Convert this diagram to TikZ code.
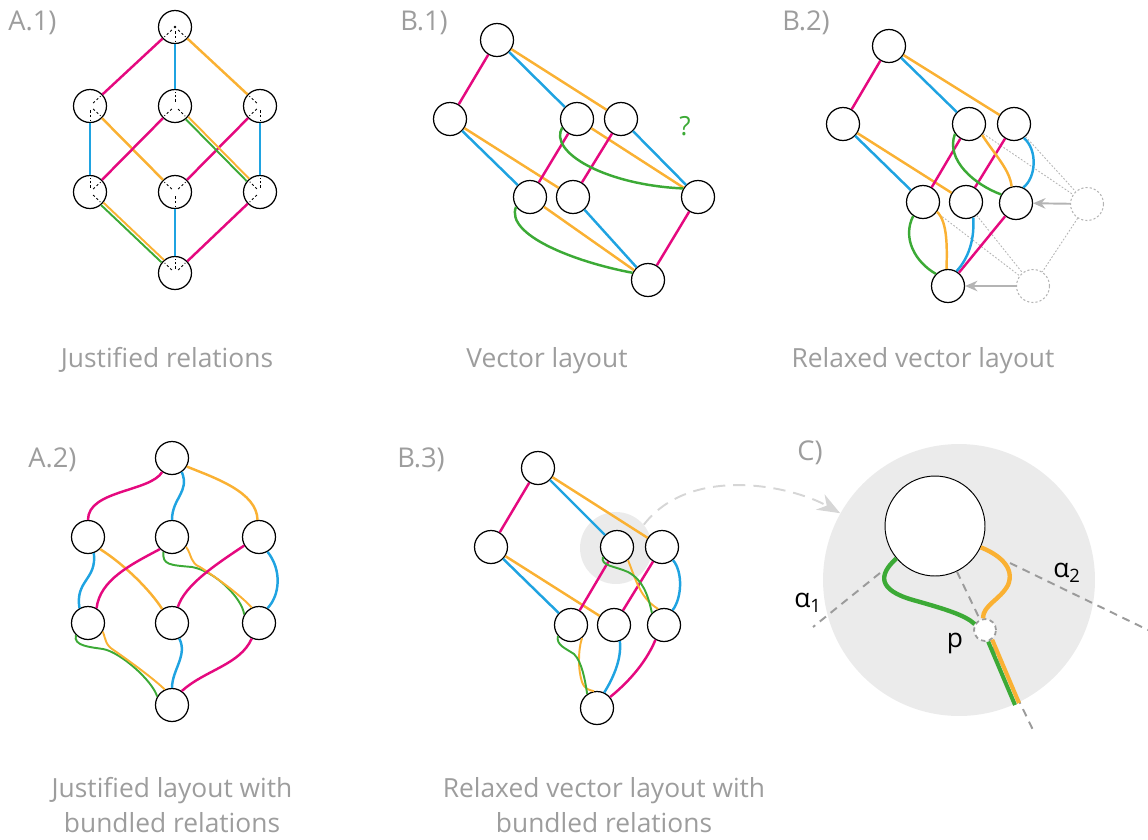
\documentclass[tikz,border=0pt]{standalone}
\usepackage{fontspec}
\setmainfont{Open Sans}
\usetikzlibrary{arrows.meta}
\definecolor{mag}{HTML}{E5097F}
\definecolor{cyn}{HTML}{1FA3E1}
\definecolor{orn}{HTML}{FAB133}
\definecolor{grn}{HTML}{3CAA36}
\definecolor{txg}{HTML}{9D9D9D}
\definecolor{lgr}{HTML}{EBEBEB}
\definecolor{dgr}{HTML}{9B9B9B}
\definecolor{agr}{HTML}{B4B4B4}
\definecolor{arcg}{HTML}{D6D6D6}
\tikzset{
  vx/.style={circle,draw=black,line width=0.7pt,fill=white,minimum size=0.66cm,inner sep=0pt},
  ghost/.style={circle,draw=agr,line width=0.6pt,dash pattern=on 1.2pt off 1.2pt,minimum size=0.66cm,inner sep=0pt},
  rel/.style={line width=1.4pt},
  mg/.style={rel,draw=mag},
  bl/.style={rel,draw=cyn},
  og/.style={rel,draw=orn},
  gn/.style={rel,draw=grn},
  pr/.style={line width=1.1pt},
  tag/.style={anchor=west,inner sep=0pt,text=txg,font=\fontsize{15.5}{18}\selectfont},
  capt/.style={anchor=base,text=txg,font=\fontsize{15}{18}\selectfont},
  tick/.style={draw=black,line width=0.5pt,dash pattern=on 1.3pt off 1.3pt,shorten <=2.5pt,shorten >=1.5pt},
  ghl/.style={draw=agr,line width=0.5pt,dash pattern=on 1pt off 1pt},
  push/.style={draw=agr,line width=1.1pt,-{Stealth[length=7pt,width=6pt]}},
  ray/.style={draw=dgr,line width=1.1pt,dash pattern=on 4.5pt off 3.4pt},
  fat/.style={line width=2.5pt},
}

\begin{document}
\begin{tikzpicture}[x=0.02cm,y=-0.02cm]
\useasboundingbox (0,0) rectangle (1148,839);

% A.1)
\node[tag] (ta1) at (8,23) {A.1)};
\node[vx] (a1t) at (175,27) {};
\node[vx] (a1l) at (90,106) {};
\node[vx] (a1m) at (175,106) {};
\node[vx] (a1r) at (260,106) {};
\node[vx] (a1p) at (90,192) {};
\node[vx] (a1q) at (175,192) {};
\node[vx] (a1s) at (260,192) {};
\node[vx] (a1b) at (175,273) {};
\draw[mg] (a1t) -- (a1l); \draw[bl] (a1t) -- (a1m); \draw[og] (a1t) -- (a1r);
\draw[bl] (a1l) -- (a1p); \draw[og] (a1l) -- (a1q);
\draw[mg] (a1m) -- (a1p);
\draw[mg] (a1r) -- (a1q); \draw[bl] (a1r) -- (a1s);
\draw[bl] (a1q) -- (a1b); \draw[mg] (a1s) -- (a1b);
\draw[og,pr] ([shift={(1.2,-1.2)}]a1m.-45) -- ([shift={(1.2,-1.2)}]a1s.135);
\draw[gn,pr] ([shift={(-1.2,1.2)}]a1m.-45) -- ([shift={(-1.2,1.2)}]a1s.135);
\draw[og,pr] ([shift={(1.2,-1.2)}]a1p.-44) -- ([shift={(1.2,-1.2)}]a1b.136);
\draw[gn,pr] ([shift={(-1.2,1.2)}]a1p.-44) -- ([shift={(-1.2,1.2)}]a1b.136);
\foreach \n/\a in {a1t/-137,a1t/-90,a1t/-43,a1l/43,a1l/-90,a1l/-43,a1m/90,a1m/-137,a1m/-45,
  a1r/137,a1r/-137,a1r/-90,a1p/90,a1p/43,a1p/-44,a1q/137,a1q/43,a1q/-90,
  a1s/135,a1s/90,a1s/-136,a1b/136,a1b/90,a1b/44}
  \draw[tick] (\n.center) -- (\n.\a);
\fill (a1t.center) circle[radius=1.3];
\node[capt] (ca1) at (167,367) {Justified relations};

% B.1)
\node[tag] (tb1) at (400,23) {B.1)};
\node[vx] (b1t) at (497,40) {};
\node[vx] (b1l) at (450,119) {};
\node[vx] (b1m) at (577,119) {};
\node[vx] (b1n) at (621,119) {};
\node[vx] (b1p) at (530,197) {};
\node[vx] (b1q) at (573,197) {};
\node[vx] (b1s) at (698,197) {};
\node[vx] (b1b) at (648,280) {};
\draw[mg] (b1t) -- (b1l); \draw[bl] (b1t) -- (b1m); \draw[og] (b1t) -- (b1n);
\draw[bl] (b1l) -- (b1p); \draw[og] (b1l) -- (b1q);
\draw[mg] (b1m) -- (b1p); \draw[og] (b1m) -- (b1s);
\draw[mg] (b1n) -- (b1q); \draw[bl] (b1n) -- (b1s);
\draw[og] (b1p) -- (b1b); \draw[bl] (b1q) -- (b1b); \draw[mg] (b1s) -- (b1b);
\draw[gn] (b1m.-150) .. controls (548,152) and (605,185) .. (b1s.150);
\draw[gn] (b1p.-145) .. controls (505,235) and (575,262) .. (b1b.155);
\node[text=grn,font=\fontsize{15}{18}\selectfont] (qm) at (685,126) {?};
\node[capt] (cb1) at (547,367) {Vector layout};

% B.2)
\node[tag] (tb2) at (782,23) {B.2)};
\node[vx] (b2t) at (889,46) {};
\node[vx] (b2l) at (843,124) {};
\node[vx] (b2m) at (969,124) {};
\node[vx] (b2n) at (1014,124) {};
\node[vx] (b2p) at (923,202) {};
\node[vx] (b2q) at (966,202) {};
\node[vx] (b2s) at (1016,203) {};
\node[vx] (b2b) at (948,286) {};
\node[ghost] (g1) at (1087,204) {};
\node[ghost] (g2) at (1033,286) {};
\draw[ghl] (b2m) -- (g1); \draw[ghl] (b2n) -- (g1); \draw[ghl] (g1) -- (g2);
\draw[ghl] (b2p) -- (g2); \draw[ghl] (b2q) -- (g2);
\draw[push] (g1) -- (b2s); \draw[push] (g2) -- (b2b);
\draw[mg] (b2t) -- (b2l); \draw[bl] (b2t) -- (b2m); \draw[og] (b2t) -- (b2n);
\draw[bl] (b2l) -- (b2p); \draw[og] (b2l) -- (b2q);
\draw[mg] (b2m) -- (b2p); \draw[mg] (b2n) -- (b2q); \draw[mg] (b2s) -- (b2b);
\draw[og] (b2m.-40) .. controls (995,155) and (1010,170) .. (b2s.105);
\draw[gn] (b2m.-145) .. controls (945,160) and (975,185) .. (b2s.150);
\draw[bl] (b2n.-55) .. controls (1038,150) and (1036,178) .. (b2s.65);
\draw[gn] (b2p.-125) .. controls (902,238) and (915,262) .. (b2b.135);
\draw[og] (b2p.-35) .. controls (948,222) and (947,250) .. (b2b.95);
\draw[bl] (b2q.-65) .. controls (975,245) and (965,262) .. (b2b.60);
\node[capt] (cb2) at (923,367) {Relaxed vector layout};

% A.2)
\node[tag] (ta2) at (28,460) {A.2)};
\node[vx] (a2t) at (172,458) {};
\node[vx] (a2l) at (88,537) {};
\node[vx] (a2m) at (172,537) {};
\node[vx] (a2r) at (259,537) {};
\node[vx] (a2p) at (88,623) {};
\node[vx] (a2q) at (172,623) {};
\node[vx] (a2s) at (259,623) {};
\node[vx] (a2b) at (172,705) {};
\draw[mg] (a2t.-125) .. controls (150,492) and (88,490) .. (a2l.north);
\draw[bl] (a2t.-55) .. controls (190,492) and (172,498) .. (a2m.north);
\draw[og] (a2t.-30) .. controls (215,478) and (257,492) .. (a2r.95);
\draw[bl] (a2l.-70) .. controls (97,580) and (75,580) .. (a2p.120);
\draw[og] (a2l.-45) .. controls (125,565) and (150,590) .. (a2q.125);
\draw[mg] (a2m.-135) .. controls (130,565) and (100,580) .. (a2p.60);
\draw[gn,pr] (a2m.-120) .. controls (162,565) and (170,565) .. (192,567) .. controls (215,571) and (242,598) .. (a2s.150);
\draw[og,pr] (a2m.-35) .. controls (192,555) and (190,563) .. (200,567) .. controls (220,580) and (240,595) .. (a2s.115);
\draw[mg] (a2r.-150) .. controls (215,565) and (185,585) .. (a2q.70);
\draw[bl] (a2r.-60) .. controls (282,570) and (280,595) .. (a2s.60);
\draw[gn,pr] (a2p.-135) .. controls (73,646) and (90,647) .. (103,649) .. controls (120,652) and (152,680) .. (a2b.150);
\draw[og,pr] (a2p.-30) .. controls (106,640) and (105,645) .. (115,651) .. controls (135,665) and (155,680) .. (a2b.115);
\draw[bl] (a2q.-65) .. controls (188,655) and (172,670) .. (a2b.90);
\draw[mg] (a2s.-115) .. controls (240,665) and (205,670) .. (a2b.55);
\node[capt] (ca2) at (172,797) {Justified layout with};
\node[capt] (ca2b) at (172,832) {bundled relations};

% B.3)
\node[tag] (tb3) at (397,460) {B.3)};
\node[circle,fill=lgr,minimum size=1.44cm,inner sep=0pt] (b3h) at (616,548) {};
\node[vx] (b3t) at (538,468) {};
\node[vx] (b3l) at (491,547) {};
\node[vx] (b3m) at (617,547) {};
\node[vx] (b3n) at (662,547) {};
\node[vx] (b3p) at (571,625) {};
\node[vx] (b3q) at (614,625) {};
\node[vx] (b3s) at (664,625) {};
\node[vx] (b3b) at (597,708) {};
\draw[mg] (b3t) -- (b3l); \draw[bl] (b3t) -- (b3m); \draw[og] (b3t) -- (b3n);
\draw[bl] (b3l) -- (b3p); \draw[og] (b3l) -- (b3q);
\draw[mg] (b3m) -- (b3p); \draw[mg] (b3n) -- (b3q);
\draw[og,pr] (b3m.-50) .. controls (636,580) and (640,598) .. (b3s.110);
\draw[gn,pr] (b3m.-145) .. controls (600,566) and (615,566) .. (628,572) .. controls (643,580) and (648,595) .. (b3s.135);
\draw[bl] (b3n.-50) .. controls (683,572) and (682,598) .. (b3s.60);
\draw[og,pr] (b3p.-50) .. controls (578,650) and (578,670) .. (582,682) .. controls (585,690) and (590,690) .. (b3b.100);
\draw[gn,pr] (b3p.-140) .. controls (556,645) and (565,648) .. (574,654) .. controls (582,662) and (585,680) .. (b3b.125);
\draw[bl] (b3q.-70) .. controls (622,660) and (612,680) .. (b3b.65);
\draw[mg] (b3s.-120) .. controls (645,665) and (625,685) .. (b3b.40);
\node[capt] (cb3) at (604,797) {Relaxed vector layout with};
\node[capt] (cb3b) at (604,832) {bundled relations};

% C)
\node[tag] (tc) at (797,453) {C)};
\node[circle,fill=lgr,minimum size=5.44cm,inner sep=0pt] (cbig) at (959,580) {};
\draw[draw=arcg,line width=1.1pt,dash pattern=on 7pt off 4.5pt,-{Stealth[length=13pt,width=10pt]}]
  (b3h.40) .. controls (690,465) and (790,485) .. (cbig);
\node[vx,minimum size=2cm,line width=0.55pt] (cnode) at (935,526) {};
\coordinate (ra1) at (813,627); \coordinate (rb1) at (880,573);
\coordinate (ra2) at (1010,563); \coordinate (rb2) at (1148,630);
\coordinate (rp) at (1033,730);
\draw[ray] (rb1) -- (ra1);
\draw[ray] (ra2) -- (rb2);
\draw[ray] (cnode) -- (rp);
\node[circle,draw=dgr,line width=1pt,dash pattern=on 2.5pt off 2pt,fill=white,minimum size=0.44cm,inner sep=0pt] (cp) at (985,630) {};
\coordinate (cq) at (1017,704);
\draw[gn,fat] (cnode.-140) .. controls (878,575) and (878,590) .. (913,600) .. controls (945,609) and (965,615) .. (cp.150);
\draw[og,fat] (cnode.-25) .. controls (1000,555) and (1015,568) .. (1008,585) .. controls (1000,600) and (983,605) .. (cp.100);
\draw[gn,line width=2.3pt] ([shift={(-2,1)}]cp.-64) -- ([shift={(-2,1)}]cq);
\draw[og,line width=2.3pt] ([shift={(2,-1)}]cp.-64) -- ([shift={(2,-1)}]cq);
\node[font=\fontsize{15}{18}\selectfont] (la1) at (808,603) {α\textsubscript{1}};
\node[font=\fontsize{15}{18}\selectfont] (la2) at (1067,573) {α\textsubscript{2}};
\node[font=\fontsize{15}{18}\selectfont] (lp) at (955,643) {p};
\end{tikzpicture}
\end{document}
